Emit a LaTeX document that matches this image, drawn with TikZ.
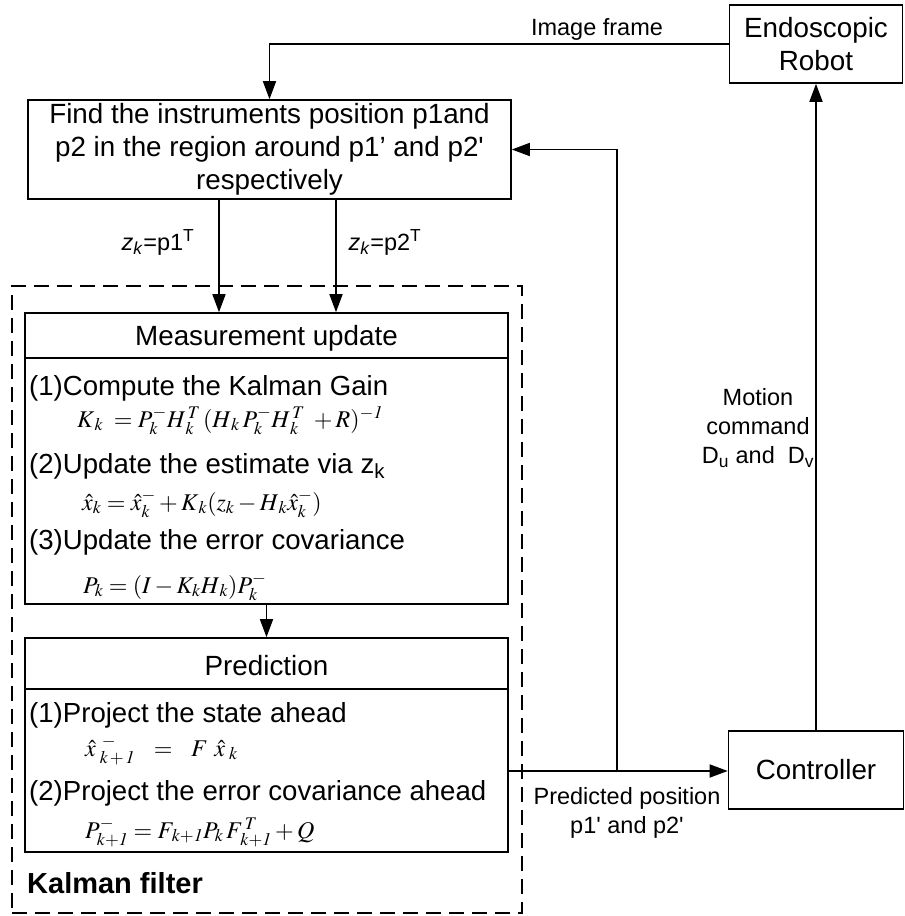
\documentclass[tikz,border=0pt]{standalone}
\usepackage{mathptmx}
\usepackage[no-math]{fontspec}
\setmainfont{Liberation Sans}
\usetikzlibrary{arrows.meta}

\tikzset{
  box/.style={draw, line width=1.6pt, inner sep=0pt, align=center},
  wire/.style={line width=1.6pt},
  arr/.style={wire, -{Triangle[length=18pt,width=13pt]}},
  big/.style={font=\fontsize{27.8}{33}\selectfont},
  lab/.style={font=\fontsize{23.5}{29}\selectfont},
  eq/.style={font=\fontsize{24}{28}\selectfont, anchor=base west, inner sep=0pt},
  item/.style={font=\fontsize{27.6}{33}\selectfont, anchor=base west, inner sep=0pt},
  kfbox/.style={draw, line width=1.6pt, dash pattern=on 15pt off 8pt, inner sep=0pt},
}

\begin{document}
\begin{tikzpicture}[x=1pt, y=-1pt]
\useasboundingbox (0,0) rectangle (905,916);

% blocks outside the filter
\node[box, big, minimum width=173pt, minimum height=78pt] (robot) at (816,44) {Endoscopic\\Robot};
\node[box, big, minimum width=483pt, minimum height=99pt] (find) at (269.5,149.5)
  {Find the instruments position p1and\\p2 in the region around p1’ and p2\textquotesingle\\respectively};
\node[box, big, minimum width=175pt, minimum height=78pt] (ctrl) at (816,770) {Controller};

% Kalman filter frame
\node[kfbox, minimum width=510pt, minimum height=627pt] (kf) at (267,599.5) {};
\node[font=\fontsize{29}{33}\selectfont\bfseries, anchor=base west, inner sep=0pt] (kflab) at (27,893) {Kalman filter};

% measurement update block
\node[box, minimum width=483pt, minimum height=291pt] (meas) at (266.5,458.5) {};
\draw[wire] (25,358) -- (508,358);
\node[big, anchor=base] (measT) at (266.5,345) {Measurement update};
\node[item] (m1) at (29,395) {(1)Compute the Kalman Gain};
\node[eq] (e1) at (77,427) {$K_{\,k}\; = P_k^- H_{\,k}^{\,T}\,(H_{\,k}\,P_k^- H_{\,k}^{\,T}\; + R)^{-\mathit{1}}$};
\node[item] (m2) at (29,473) {(2)Update the estimate via z\textsubscript{k}};
\node[eq] (e2) at (82,510) {$\hat{x}_k = \hat{x}_k^- + K_{\,k}(z_k - H_{\,k}\hat{x}_k^-)$};
\node[item] (m3) at (29,549) {(3)Update the error covariance};
\node[eq] (e3) at (83,593) {$P_k = (I - K_k H_{\,k})P_k^-$};

% prediction block
\node[box, minimum width=483pt, minimum height=214pt] (pred) at (266.5,745) {};
\draw[wire] (25,689) -- (508,689);
\node[big, anchor=base] (predT) at (266.5,675) {Prediction};
\node[item] (p1) at (29,722) {(1)Project the state ahead};
\node[eq] (e4) at (85,756) {$\hat{x}_{\;k\,+\,\mathit{1}}^{\;\,-}\ \ =\ \ F\ \hat{x}_{\;k}$};
\node[item] (p2) at (29,800) {(2)Project the error covariance ahead};
\node[eq] (e5) at (85,838) {$P_{k+\mathit{1}}^- = F_{\,k+\mathit{1}}P_k\,F_{\,k+\mathit{1}}^{\,T} + Q$};

% connectors
\coordinate (zA) at (219,0);
\coordinate (zB) at (336,0);
\coordinate (j) at (617,771);
\draw[arr] (robot.west) -| (find.north);
\draw[arr] (find.south -| zA) -- (meas.north -| zA);
\draw[arr] (find.south -| zB) -- (meas.north -| zB);
\draw[arr] (meas.south) -- (pred.north);
\draw[arr] (pred.east |- j) -- (ctrl.west |- j);
\draw[arr] (j) |- (find.east);
\draw[arr] (ctrl.north) -- (robot.south);

% connector labels
\node[lab, anchor=base] (imglab) at (597,35) {Image frame};
\node[lab, anchor=base] (z1) at (158,250) {\textit{z}\textsubscript{\textit{k}}=p1\textsuperscript{T}};
\node[lab, anchor=base] (z2) at (385,250) {\textit{z}\textsubscript{\textit{k}}=p2\textsuperscript{T}};
\node[lab, align=center] (motlab) at (758,428) {Motion\\command\\D\textsubscript{u} and~ D\textsubscript{v}};
\node[lab, align=center] (predlab) at (627,813) {Predicted position\\p1\textquotesingle{} and p2\textquotesingle};
\end{tikzpicture}
\end{document}
